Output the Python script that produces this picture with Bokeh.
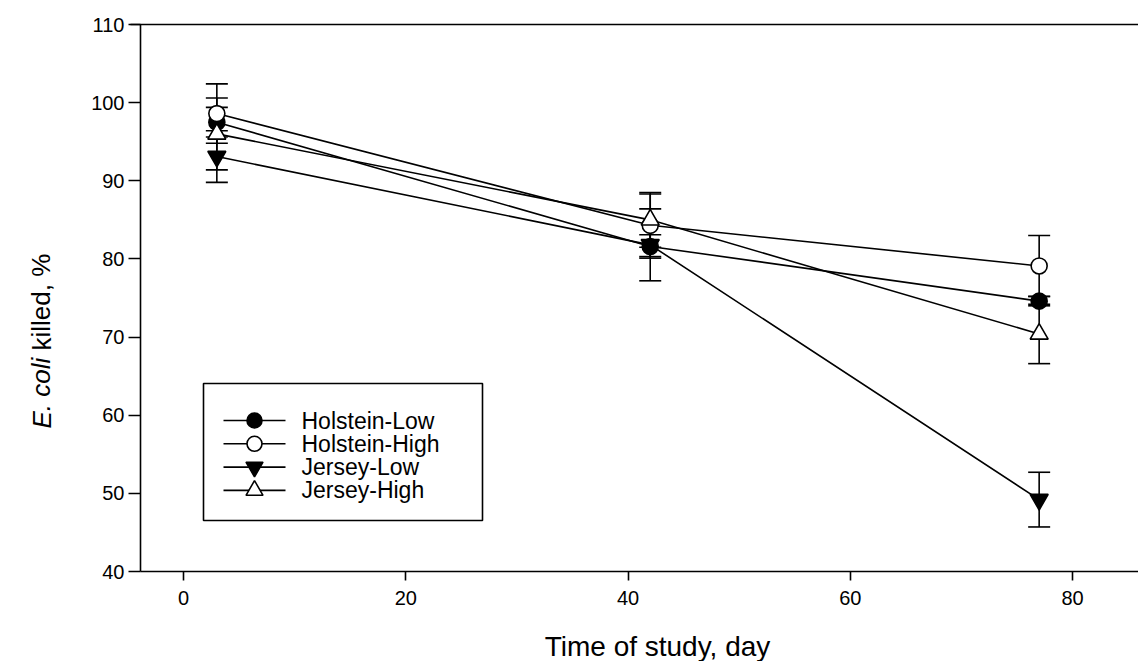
from bokeh.plotting import figure
from bokeh.models import (Whisker, ColumnDataSource, LinearAxis, FixedTicker, Label, Range1d)
from bokeh.core.properties import value
from bokeh.embed import file_html
from bokeh.resources import INLINE

# ---- data ----
days = [3, 42, 77]
holstein_low = [97.5, 81.6, 74.6]
holstein_low_err = [1.9, 1.5, 0.6]
holstein_high = [98.6, 84.3, 79.1]
holstein_high_err = [3.8, 4.0, 3.9]
jersey_low = [93.1, 81.8, 49.2]
jersey_low_err = [3.3, 4.6, 3.5]
jersey_high = [96.0, 85.0, 70.4]
jersey_high_err = [4.6, 3.5, 3.8]

series_names = ["Holstein-Low", "Holstein-High", "Jersey-Low", "Jersey-High"]
x_ticks = [0, 20, 40, 60, 80]
y_ticks = [40, 50, 60, 70, 80, 90, 100, 110]
Y_MIN, Y_MAX = 40, 110

# ---- layout geometry (picture pixels) ----
W, H = 1138, 661
PPX = 11.1125             # pixels per day
PPY = 547 / 70            # pixels per percent
X0_PAGE, YTOP_PAGE = 183, 24   # picture position of day 0 and of value 110


def fx(page_x):
    return (page_x - X0_PAGE) / PPX


def fy(page_y):
    return Y_MAX - (page_y - YTOP_PAGE) / PPY


FONT = "Liberation Sans"
AX_X = fx(140)            # where the y axis sits, in days
X_RIGHT = fx(W)

p = figure(width=W, height=H, output_backend="svg", toolbar_location=None,
           x_range=Range1d(fx(0), fx(W)), y_range=Range1d(fy(H), fy(0)),
           x_axis_location=None, y_axis_location=None, min_border=0)
p.outline_line_color = None
p.grid.visible = False
p.background_fill_color = "white"
p.border_fill_color = "white"


def style_axis(ax, size):
    ax.axis_line_color = "black"
    ax.axis_line_width = 1.6
    ax.major_tick_line_color = "black"
    ax.major_tick_line_width = 1.6
    ax.minor_tick_line_color = None
    ax.major_tick_in = 0
    ax.major_label_text_font = FONT
    ax.major_label_text_font_size = size
    ax.major_label_text_color = "black"


xax = LinearAxis(ticker=FixedTicker(ticks=x_ticks), fixed_location=Y_MIN,
                 bounds=(AX_X, X_RIGHT))
style_axis(xax, "20px")
xax.major_tick_out = 9
xax.major_label_standoff = 10
p.add_layout(xax, "below")

yax = LinearAxis(ticker=FixedTicker(ticks=y_ticks), fixed_location=AX_X,
                 bounds=(Y_MIN, Y_MAX))
style_axis(yax, "20px")
yax.major_tick_out = 12
yax.major_label_standoff = 4
p.add_layout(yax, "left")

top = LinearAxis(ticker=FixedTicker(ticks=[]), fixed_location=Y_MAX,
                 bounds=(fx(130), X_RIGHT))
style_axis(top, "0px")
top.major_tick_line_color = None
p.add_layout(top, "above")

# ---- axis titles ----
p.add_layout(Label(x=fx(657), y=fy(646), text="Time of study, day", text_align="center",
                   text_baseline="middle", text_font=FONT, text_font_size="28px",
                   text_color="black"))
p.add_layout(Label(x=fx(41), y=fy(428), text="E. coli", angle=1.5708, text_align="left",
                   text_baseline="middle", text_font=FONT, text_font_style="italic",
                   text_font_size="26px", text_color="black"))
p.add_layout(Label(x=fx(41), y=fy(350), text="killed, %", angle=1.5708,
                   text_align="left", text_baseline="middle", text_font=FONT,
                   text_font_size="26px", text_color="black"))

styles = [
    dict(marker="circle", fill_color="black", size=16),
    dict(marker="circle", fill_color="white", size=16),
    dict(marker="inverted_triangle", fill_color="black", size=18),
    dict(marker="triangle", fill_color="white", size=18),
]
values = [holstein_low, holstein_high, jersey_low, jersey_high]
errors = [holstein_low_err, holstein_high_err, jersey_low_err, jersey_high_err]

for name, v, e, st in zip(series_names, values, errors, styles):
    src = ColumnDataSource(dict(x=days, y=v,
                                lo=[a - b for a, b in zip(v, e)],
                                hi=[a + b for a, b in zip(v, e)]))
    w = Whisker(base="x", upper="hi", lower="lo", source=src, level="underlay",
                line_color="black", line_width=1.6)
    w.upper_head.size = 22
    w.lower_head.size = 22
    w.upper_head.line_width = 1.6
    w.lower_head.line_width = 1.6
    p.add_layout(w)
    p.line("x", "y", source=src, line_color="black", line_width=1.6)
    p.scatter("x", "y", source=src, marker=st["marker"], size=st["size"],
              fill_color=st["fill_color"], line_color="black", line_width=1.6)

# ---- legend (drawn as a key box in the plot) ----
p.quad(left=fx(203), right=fx(482), top=fy(383), bottom=fy(520),
       fill_color="white", line_color="black", line_width=1.6)
row_y = [fy(420 + 23.3 * i) for i in range(len(series_names))]
p.segment(x0=[fx(223)] * 4, x1=[fx(285)] * 4, y0=row_y, y1=row_y,
          line_color="black", line_width=1.6)
for yy, st in zip(row_y, styles):
    p.scatter([fx(254)], [yy], marker=st["marker"], size=st["size"] - 1,
              fill_color=st["fill_color"], line_color="black", line_width=1.6)
p.text(x=[fx(301)] * 4, y=row_y, text=series_names, text_font=value(FONT),
       text_font_size="23px", text_baseline="middle", text_align="left",
       text_color="black")

open("out.html", "w").write(file_html(p, INLINE))
